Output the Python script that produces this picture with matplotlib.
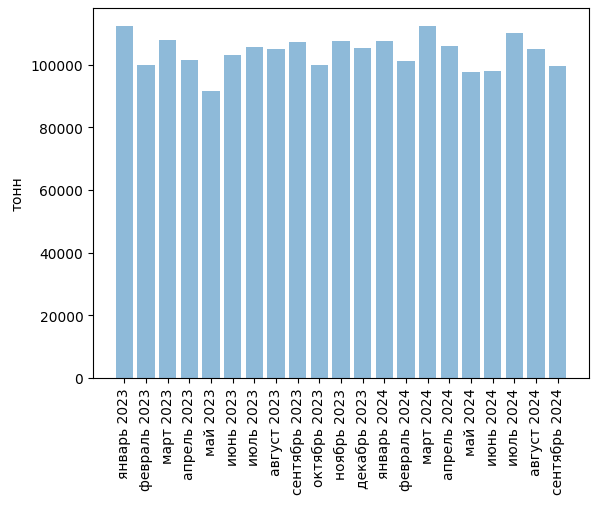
import matplotlib
matplotlib.use("Agg")
import matplotlib.pyplot as plt

months = ["январь 2023", "февраль 2023", "март 2023", "апрель 2023", "май 2023",
          "июнь 2023", "июль 2023", "август 2023", "сентябрь 2023", "октябрь 2023",
          "ноябрь 2023", "декабрь 2023", "январь 2024", "февраль 2024", "март 2024",
          "апрель 2024", "май 2024", "июнь 2024", "июль 2024", "август 2024",
          "сентябрь 2024"]
tons = [112400, 100000, 107900, 101600, 91700, 102900, 105700, 105100, 107300,
        100000, 107600, 105400, 107600, 101000, 112400, 106000, 97500, 98100,
        110200, 105100, 99700]

fig = plt.figure(figsize=(5.98, 5.06), dpi=100)
ax = fig.add_axes([0.1555, 0.251, 0.8295, 0.731])
ax.bar(months, tons, alpha=0.5)
ax.set_ylabel("тонн")
plt.xticks(rotation=90)
fig.savefig("out.png")
